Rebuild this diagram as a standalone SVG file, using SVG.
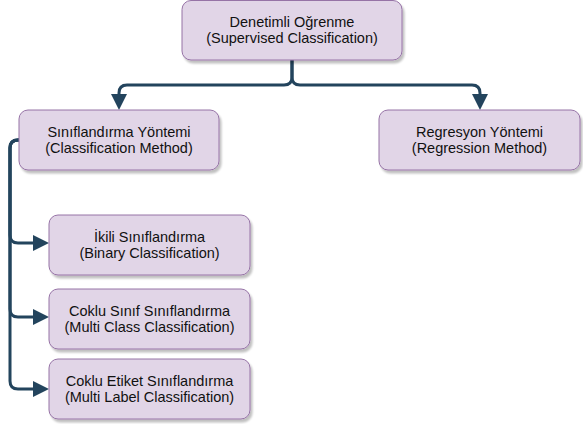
<svg xmlns="http://www.w3.org/2000/svg" width="583" height="424" viewBox="0 0 583 424">
<defs>
<style>
.box{fill:#e1d5e7;stroke:#9673a6;stroke-width:1;filter:url(#sh)}
.t{font-family:"Liberation Sans",Arial,sans-serif;font-size:14.5px;fill:#111;text-anchor:middle}
.c{fill:none;stroke:#23445d;stroke-width:3}
</style>
<filter id="sh" x="-10%" y="-10%" width="130%" height="140%">
<feGaussianBlur in="SourceAlpha" stdDeviation="0.8" result="b"/>
<feOffset in="b" dx="2" dy="3" result="o"/>
<feComponentTransfer in="o" result="s"><feFuncA type="linear" slope="0.25"/></feComponentTransfer>
<feMerge><feMergeNode in="s"/><feMergeNode in="SourceGraphic"/></feMerge>
</filter>
<marker id="ah" viewBox="0 0 16 16" refX="0" refY="8" markerWidth="16" markerHeight="16" orient="auto" markerUnits="userSpaceOnUse">
<path d="M0,0 L16,8 L0,16 z" fill="#23445d"/>
</marker>
</defs>
<rect width="583" height="424" fill="#fff"/>
<g id="connectors">
<path class="c" d="M292 60 V77 Q292 85 284 85 H127 Q119 85 119 93 V94" marker-end="url(#ah)"/>
<path class="c" d="M292 60 V77 Q292 85 300 85 H472 Q480 85 480 93 V94" marker-end="url(#ah)"/>
<path class="c" d="M19 140 H18 Q10 140 10 148 V235 Q10 243 18 243 H33" marker-end="url(#ah)"/>
<path class="c" d="M19 140 H18 Q10 140 10 148 V309 Q10 317 18 317 H33" marker-end="url(#ah)"/>
<path class="c" d="M19 140 H18 Q10 140 10 148 V381 Q10 389 18 389 H33" marker-end="url(#ah)"/>
</g>
<g id="n-supervised">
<rect class="box" x="182" y="0.5" width="220" height="59.5" rx="9"/>
<text class="t" x="292" y="27">Denetimli Oğrenme</text>
<text class="t" x="292" y="43">(Supervised Classification)</text>
</g>
<g id="n-classification">
<rect class="box" x="19" y="110" width="200" height="60" rx="9"/>
<text class="t" x="119" y="137">Sınıflandırma Yöntemi</text>
<text class="t" x="119" y="153">(Classification Method)</text>
</g>
<g id="n-regression">
<rect class="box" x="379" y="110" width="201" height="60" rx="9"/>
<text class="t" x="479.5" y="137">Regresyon Yöntemi</text>
<text class="t" x="479.5" y="153">(Regression Method)</text>
</g>
<g id="n-binary">
<rect class="box" x="49" y="215" width="201" height="60" rx="9"/>
<text class="t" x="149.5" y="242">İkili Sınıflandırma</text>
<text class="t" x="149.5" y="258">(Binary Classification)</text>
</g>
<g id="n-multiclass">
<rect class="box" x="49" y="289" width="201" height="60" rx="9"/>
<text class="t" x="149.5" y="316">Coklu Sınıf Sınıflandırma</text>
<text class="t" x="149.5" y="332">(Multi Class Classification)</text>
</g>
<g id="n-multilabel">
<rect class="box" x="49" y="359" width="201" height="60" rx="9"/>
<text class="t" x="149.5" y="386">Coklu Etiket Sınıflandırma</text>
<text class="t" x="149.5" y="402">(Multi Label Classification)</text>
</g>
</svg>
